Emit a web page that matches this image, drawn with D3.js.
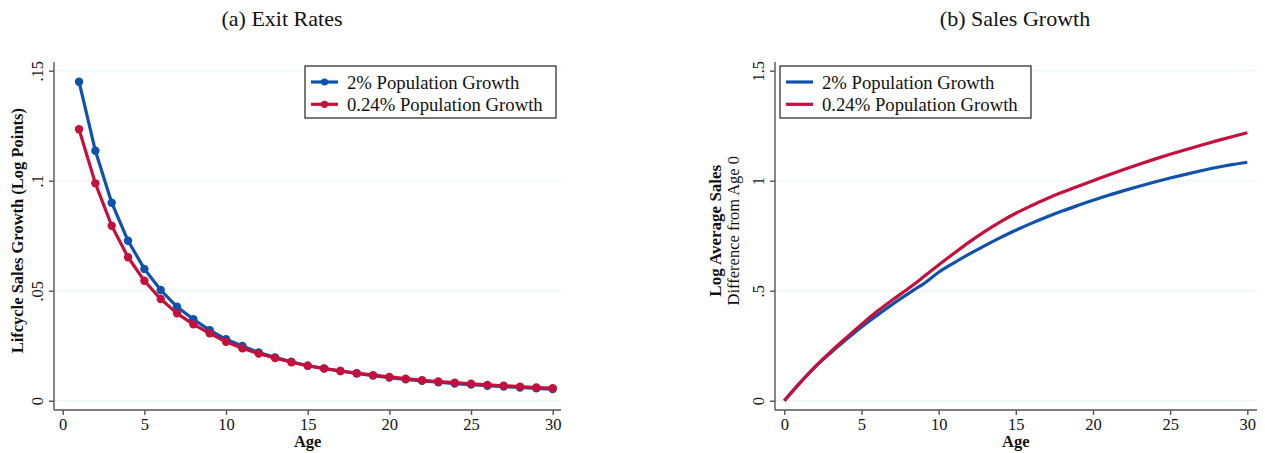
<!DOCTYPE html>
<html lang="en">
<head>
<meta charset="UTF-8">
<title>Exit Rates and Sales Growth</title>
<script src="https://d3js.org/d3.v7.min.js"></script>
<style>
  body { margin: 0; background: #fff; }
  svg { display: block; }
  text { font-family: "Liberation Serif", "DejaVu Serif", serif; fill: #111; }
  .grid line { stroke: #eaf0f2; stroke-width: 1; }
  .axis path, .axis line { stroke: #555; stroke-width: 1.4; }
  .title { font-size: 22px; }
  .tick-label { font-size: 16.5px; }
  .ax-title { font-size: 16.5px; font-weight: bold; }
  .legend-text { font-size: 18.7px; }
</style>
</head>
<body>
<script>
// ----- data -----
const exitAges = d3.range(1, 31);
const exitHigh = [0.145, 0.1136, 0.090, 0.0727, 0.0599, 0.0503, 0.0427, 0.037, 0.0321, 0.0279,
                  0.0249, 0.0219, 0.0197, 0.0177, 0.0159, 0.0147, 0.0135, 0.0124, 0.0114, 0.0105,
                  0.0097, 0.0090, 0.0084, 0.0078, 0.0073, 0.0068, 0.0064, 0.0060, 0.0056, 0.0053];
const exitLow  = [0.1234, 0.0988, 0.0795, 0.0652, 0.0545, 0.0462, 0.0397, 0.0347, 0.0306, 0.0268,
                  0.0238, 0.0214, 0.0194, 0.0175, 0.0159, 0.0146, 0.0135, 0.0125, 0.0116, 0.0108,
                  0.0100, 0.0093, 0.0087, 0.0082, 0.0077, 0.0072, 0.0068, 0.0064, 0.0060, 0.0057];

const salesAges = [0, 1, 2, 3, 4, 5, 6, 7, 8, 8.5, 9, 10, 11, 12, 13, 14, 15, 16, 17, 18, 19, 20,
                   21, 22, 23, 24, 25, 26, 27, 28, 29, 30];
const salesHigh = [0, 0.08, 0.153, 0.217, 0.277, 0.335, 0.388, 0.438, 0.485, 0.508, 0.53, 0.584,
                   0.627, 0.667, 0.705, 0.741, 0.775, 0.806, 0.835, 0.862, 0.887, 0.911,
                   0.934, 0.955, 0.975, 0.994, 1.012, 1.029, 1.045, 1.06, 1.073, 1.084];
const salesLow  = [0, 0.08, 0.155, 0.222, 0.285, 0.347, 0.405, 0.458, 0.508, 0.534, 0.562, 0.617,
                   0.67, 0.722, 0.77, 0.813, 0.852, 0.886, 0.918, 0.947, 0.974, 1.0,
                   1.026, 1.051, 1.075, 1.098, 1.12, 1.141, 1.161, 1.181, 1.2, 1.218];

const seriesNames = ["2% Population Growth", "0.24% Population Growth"];
const seriesColors = ["#0f52ad", "#c5103c"];
const xTicks = [0, 5, 10, 15, 20, 25, 30];
const exitTicks = [0, 0.05, 0.1, 0.15];
const exitTickLabels = ["0", ".05", ".1", ".15"];
const salesTicks = [0, 0.5, 1, 1.5];
const salesTickLabels = ["0", ".5", "1", "1.5"];

const W = 1265, H = 453;
const svg = d3.select("body").append("svg").attr("width", W).attr("height", H);

function drawPanel(p) {
  const x = d3.scaleLinear().domain([0, 30]).range(p.xRange);
  const y = d3.scaleLinear().domain(p.yDomain).range([400.7, 70.7]);
  const g = svg.append("g");

  // title
  g.append("text").attr("class", "title")
    .attr("x", p.titleX).attr("y", 26).attr("text-anchor", "middle").text(p.title);

  // grid
  g.append("g").attr("class", "grid")
    .selectAll("line").data(p.yTicks).join("line")
    .attr("x1", p.axisX).attr("x2", p.rightEdge)
    .attr("y1", d => y(d)).attr("y2", d => y(d));

  // y axis
  const yAxis = g.append("g").attr("class", "axis")
    .attr("transform", `translate(${p.axisX},0)`)
    .call(d3.axisLeft(y).tickValues(p.yTicks).tickSize(5).tickSizeOuter(0).tickFormat((d, i) => p.yLabels[i]));
  yAxis.select(".domain").attr("d", `M0,62V410`);
  yAxis.selectAll(".tick text").attr("class", "tick-label")
    .attr("font-size", null).attr("font-family", null)
    .attr("x", null).attr("dy", null)
    .attr("transform", "translate(-11,0) rotate(-90)")
    .attr("text-anchor", "middle");

  // x axis
  const xAxis = g.append("g").attr("class", "axis")
    .attr("transform", "translate(0,410)")
    .call(d3.axisBottom(x).tickValues(xTicks).tickSize(5).tickSizeOuter(0));
  xAxis.select(".domain").attr("d", `M${p.axisX},0H${p.rightEdge}`);
  xAxis.selectAll(".tick text").attr("class", "tick-label")
    .attr("font-size", null).attr("font-family", null).attr("y", 20).attr("dy", null);

  g.append("text").attr("class", "ax-title")
    .attr("x", x(15)).attr("y", 447).attr("text-anchor", "middle").text("Age");

  // y titles
  p.yTitles.forEach(t => {
    g.append("text")
      .attr("transform", `translate(${t.x},${y(p.yDomain[1] / 2) - 5}) rotate(-90)`)
      .attr("text-anchor", "middle")
      .style("font-size", t.size + "px")
      .style("font-weight", t.bold ? "bold" : "normal")
      .text(t.text);
  });

  // lines
  const line = d3.line().x(d => x(d[0])).y(d => y(d[1])).curve(p.curve);
  p.series.forEach((vals, i) => {
    const pts = p.ages.map((a, j) => [a, vals[j]]);
    g.append("path").datum(pts)
      .attr("fill", "none").attr("stroke", seriesColors[i])
      .attr("stroke-width", 3.2).attr("stroke-linejoin", "round")
      .attr("d", line);
    if (p.markers) {
      g.append("g").selectAll("circle").data(pts).join("circle")
        .attr("cx", d => x(d[0])).attr("cy", d => y(d[1])).attr("r", 4.2)
        .attr("fill", seriesColors[i]);
    }
  });

  // legend
  const lg = g.append("g");
  lg.append("rect").attr("x", p.legendX).attr("y", 66).attr("width", 251).attr("height", 52)
    .attr("fill", "#fff").attr("stroke", "#222").attr("stroke-width", 1.2);
  seriesNames.forEach((name, i) => {
    const cy = 82 + i * 22.3;
    lg.append("line").attr("x1", p.legendX + 6).attr("x2", p.legendX + 33)
      .attr("y1", cy).attr("y2", cy).attr("stroke", seriesColors[i]).attr("stroke-width", 3.2);
    if (p.markers) {
      lg.append("circle").attr("cx", p.legendX + 19.5).attr("cy", cy).attr("r", 3.6)
        .attr("fill", seriesColors[i]);
    }
    lg.append("text").attr("class", "legend-text")
      .attr("x", p.legendX + 42).attr("y", cy).attr("dy", "0.35em").text(name);
  });
}

drawPanel({
  title: "(a) Exit Rates", titleX: 282,
  xRange: [62.7, 552.7], axisX: 54, rightEdge: 561,
  yDomain: [0, 0.15], yTicks: exitTicks, yLabels: exitTickLabels,
  yTitles: [{ text: "Lifcycle Sales Growth (Log Points)", x: 23, size: 16.5, bold: true }],
  ages: exitAges, series: [exitHigh, exitLow], markers: true, curve: d3.curveLinear,
  legendX: 305
});

drawPanel({
  title: "(b) Sales Growth", titleX: 1015,
  xRange: [784.3, 1247.3], axisX: 775, rightEdge: 1257,
  yDomain: [0, 1.5], yTicks: salesTicks, yLabels: salesTickLabels,
  yTitles: [
    { text: "Log Average Sales", x: 721, size: 17, bold: true },
    { text: "Difference from Age 0", x: 739, size: 16.5, bold: false }
  ],
  ages: salesAges, series: [salesHigh, salesLow], markers: false, curve: d3.curveMonotoneX,
  legendX: 780
});
</script>
</body>
</html>
